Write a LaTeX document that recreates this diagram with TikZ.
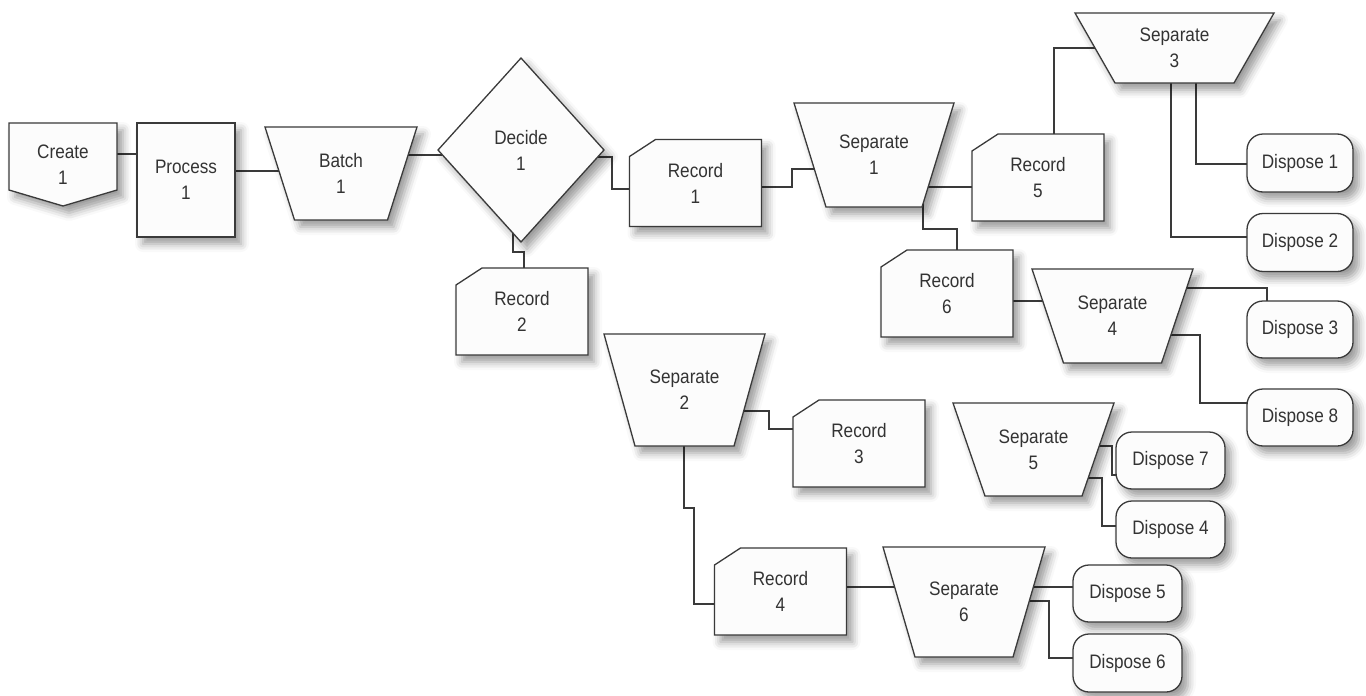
\documentclass[tikz,border=0pt]{standalone}
\usepackage{fontspec}
\setmainfont{Liberation Sans}[FakeStretch=0.88]
\usetikzlibrary{calc,shadows.blur}
\definecolor{edgec}{HTML}{3A3A3A}
\definecolor{fillc}{HTML}{FCFCFC}
\definecolor{txtc}{HTML}{333333}
\pgfdeclarelayer{connlayer}
\pgfdeclarelayer{shapelayer}
\pgfsetlayers{connlayer,shapelayer,main}
\tikzset{
  lbl/.style={inner sep=0pt, outer sep=0pt, align=center, text=txtc, font=\fontsize{19.5}{26}\selectfont},
  outline/.style={draw=edgec, line width=1.3pt, fill=fillc, line join=miter,
    blur shadow={shadow xshift=6pt, shadow yshift=-7pt, shadow blur radius=8pt, shadow opacity=40}},
  conn/.style={draw=edgec, line width=1.2pt},
}
% Record: chamfered rectangle
\newcommand\RecordBox[4]{%
  \node[lbl, minimum width=132, minimum height=87] (#1) at (#2,#3) {#4};
  \begin{pgfonlayer}{shapelayer}
    \path[outline] ($(#1.north west)+(0,17)$) -- ($(#1.north west)+(26,0)$) -- (#1.north east)
      -- (#1.south east) -- (#1.south west) -- cycle;
  \end{pgfonlayer}}
% Separate / Batch: trapezoid, wider on top
\newcommand\TrapBox[7]{%
  \node[lbl, minimum width=#4, minimum height=#5] (#1) at (#2,#3) {#7};
  \begin{pgfonlayer}{shapelayer}
    \path[outline] (#1.north west) -- (#1.north east) -- ($(#1.south east)+(-#6,0)$)
      -- ($(#1.south west)+(#6,0)$) -- cycle;
  \end{pgfonlayer}}
% Dispose: rounded rectangle
\newcommand\DispBox[6]{%
  \node[lbl, minimum width=#4, minimum height=#5] (#1) at (#2,#3) {#6};
  \begin{pgfonlayer}{shapelayer}
    \path[outline, rounded corners=16pt] (#1.north west) rectangle (#1.south east);
  \end{pgfonlayer}}

\begin{document}
\begin{tikzpicture}[x=1pt, y=-1pt]
\useasboundingbox (0,0) rectangle (1366,696);

% Create
\node[lbl, minimum width=108, minimum height=83] (create) at (63,164.5) {Create\\1};
\begin{pgfonlayer}{shapelayer}
  \path[outline] (create.north west) -- (create.north east) -- ($(create.south east)+(0,-16)$)
    -- (create.south) -- ($(create.south west)+(0,-16)$) -- cycle;
\end{pgfonlayer}
% Process
\node[lbl, minimum width=98, minimum height=114] (process) at (186,180) {Process\\1};
\begin{pgfonlayer}{shapelayer}
  \path[outline] (process.north west) rectangle (process.south east);
\end{pgfonlayer}
% Batch
\TrapBox{batch}{341}{173.5}{152}{93}{29.5}{Batch\\1}
% Decide
\node[lbl, minimum width=166, minimum height=184] (decide) at (521,150) {Decide\\1};
\begin{pgfonlayer}{shapelayer}
  \path[outline] (decide.north) -- (decide.east) -- (decide.south) -- (decide.west) -- cycle;
\end{pgfonlayer}

% Records
\RecordBox{rec1}{695.5}{183}{Record\\1}
\RecordBox{rec2}{522}{311.5}{Record\\2}
\RecordBox{rec3}{859}{443.5}{Record\\3}
\RecordBox{rec4}{780.5}{591.5}{Record\\4}
\RecordBox{rec5}{1038}{177.5}{Record\\5}
\RecordBox{rec6}{947}{293.5}{Record\\6}

% Separates
\TrapBox{sep1}{874}{155}{160}{104}{32}{Separate\\1}
\TrapBox{sep2}{684.5}{390}{161}{112}{31}{Separate\\2}
\TrapBox{sep3}{1174.5}{48}{199}{70}{40}{Separate\\3}
\TrapBox{sep4}{1112.5}{316}{161}{94}{31.5}{Separate\\4}
\TrapBox{sep5}{1033.5}{449.5}{161}{93}{32}{Separate\\5}
\TrapBox{sep6}{964}{602}{162}{110}{32}{Separate\\6}

% Disposes
\DispBox{d1}{1300}{163}{106}{58}{Dispose 1}
\DispBox{d2}{1300}{242.5}{106}{58}{Dispose 2}
\DispBox{d3}{1300}{329.5}{106}{57}{Dispose 3}
\DispBox{d8}{1300}{417.5}{106}{57}{Dispose 8}
\DispBox{d7}{1170.5}{460.5}{109}{57}{Dispose 7}
\DispBox{d4}{1170.5}{529.5}{109}{57}{Dispose 4}
\DispBox{d5}{1127.5}{593.5}{109}{57}{Dispose 5}
\DispBox{d6}{1127.5}{663}{109}{58}{Dispose 6}

% Connectors (behind the shapes)
\begin{pgfonlayer}{connlayer}
  \draw[conn] (create |- 0,154) -- (process |- 0,154);
  \draw[conn] (process |- 0,171) -- (batch |- 0,171);
  \draw[conn] (batch |- 0,155) -- (decide |- 0,155);
  \draw[conn] (decide |- 0,157) -| (612,189) -- (rec1 |- 0,189);
  \draw[conn] (decide -| 513,0) |- (524,252) -- (rec2 -| 524,0);
  \draw[conn] (rec1 |- 0,187) -| (792,169) -- (sep1 |- 0,169);
  \draw[conn] (sep1 |- 0,187) -- (rec5 |- 0,187);
  \draw[conn] (rec5 -| 1054,0) |- (sep3 |- 0,48);
  \draw[conn] (sep1 -| 923,0) |- (957,229) -- (rec6 -| 957,0);
  \draw[conn] (sep3 -| 1196,0) |- (d1 |- 0,164);
  \draw[conn] (sep3 -| 1171,0) |- (d2 |- 0,237);
  \draw[conn] (rec6 |- 0,301) -- (sep4 |- 0,301);
  \draw[conn] (sep4 |- 0,288) -| (d3 -| 1267,0);
  \draw[conn] (sep4 |- 0,335) -| (1200,403) -- (d8 |- 0,403);
  \draw[conn] (sep2 |- 0,411) -| (769,429) -- (rec3 |- 0,429);
  \draw[conn] (sep2 -| 684,0) |- (694,508) |- (rec4 |- 0,604);
  \draw[conn] (rec4 |- 0,587) -- (sep6 |- 0,587);
  \draw[conn] (sep6 |- 0,587) -- (d5 |- 0,587);
  \draw[conn] (sep6 |- 0,601) -| (1049,658) -- (d6 |- 0,658);
  \draw[conn] (sep5 |- 0,446) -| (1112,475) -- (d7 |- 0,475);
  \draw[conn] (sep5 |- 0,478) -| (1102,526) -- (d4 |- 0,526);
\end{pgfonlayer}
\end{tikzpicture}
\end{document}
